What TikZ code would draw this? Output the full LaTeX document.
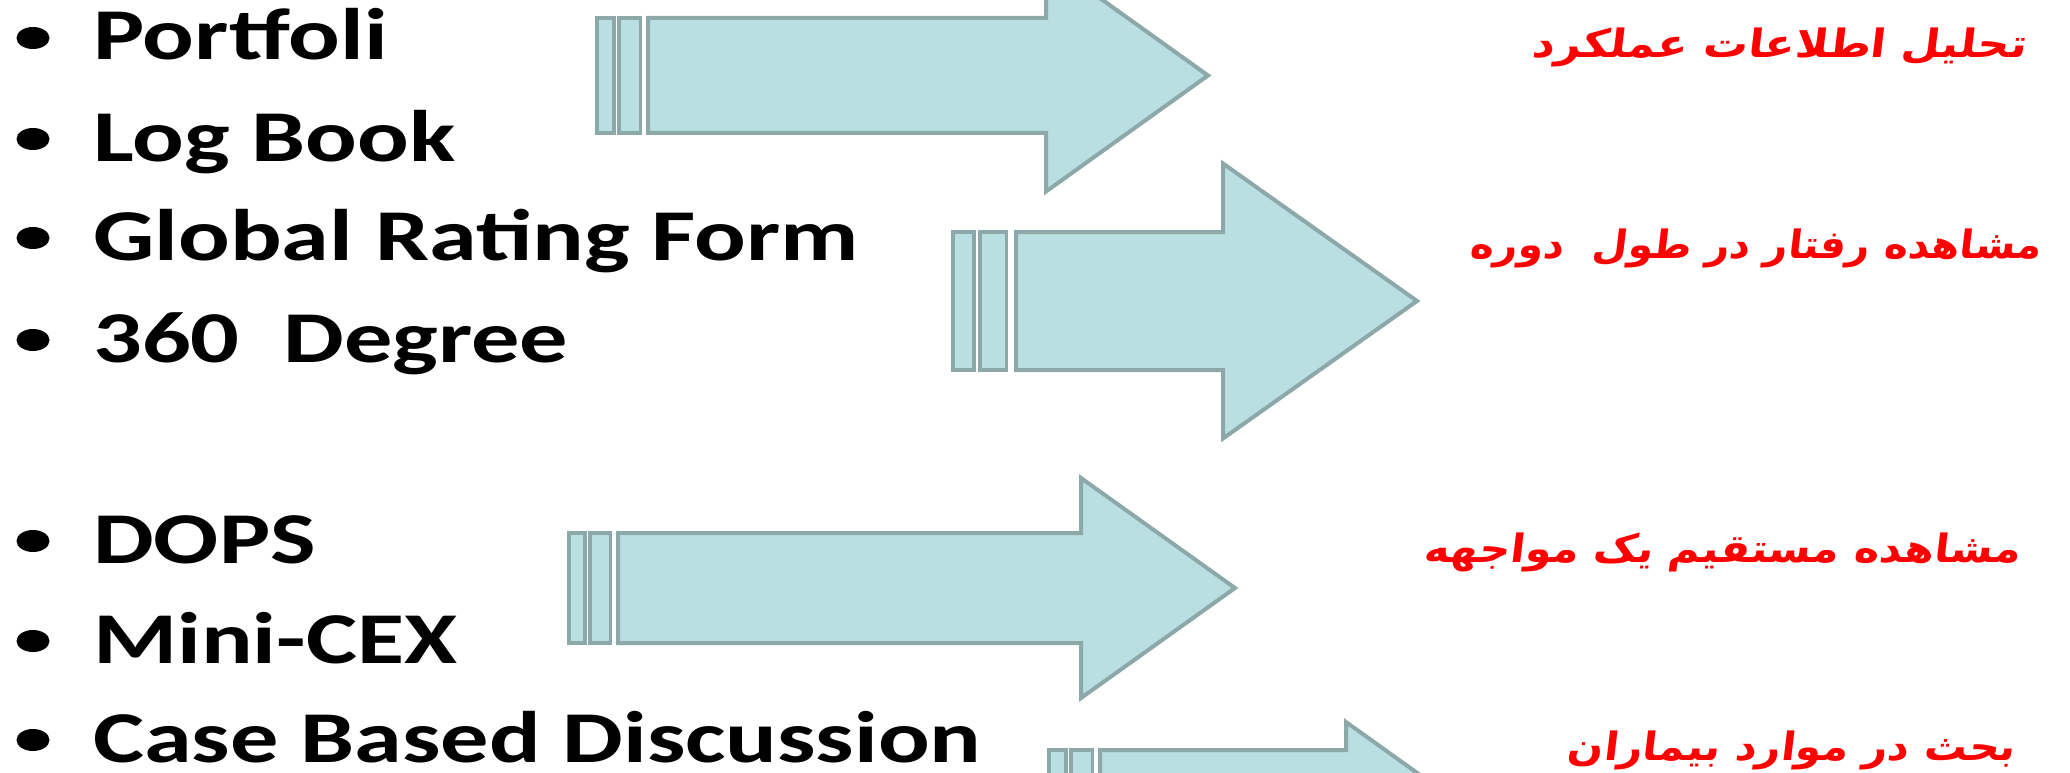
\documentclass[tikz,border=0pt]{standalone}
\usepackage{fontspec}
\usepackage{graphicx}
\setmainfont{Carlito}
\newfontfamily\arabicfont[Script=Arabic]{DejaVu Sans}
\TeXXeTstate=1
\definecolor{arrfill}{HTML}{B9DFE2}
\definecolor{arredge}{HTML}{8DA8A9}
\tikzset{
  en/.style={anchor=base west, inner sep=0pt, xscale=1.32,
    font=\fontsize{73}{80}\selectfont\bfseries},
  fa/.style={anchor=base east, inner sep=0pt, text=red, xslant=0.12,
    font=\arabicfont\bfseries\fontsize{39}{44}\selectfont},
  bul/.style={circle, fill=black, minimum size=22pt, inner sep=0pt, xscale=1.5},
  stripe/.style={fill=arrfill, draw=arredge, line width=3.5pt},
  arrowbody/.style={fill=arrfill, draw=arredge, line width=4pt, line join=miter},
}
\newcommand\fatarrow[7]{%
  \pgfmathsetmacro\aw{#2-#1}%
  \pgfmathsetmacro\sa{#1+0.33*\aw}%
  \pgfmathsetmacro\sb{#1+0.43*\aw}%
  \pgfmathsetmacro\sc{#1+0.85*\aw}%
  \pgfmathsetmacro\cy{(#3+#4)/2}%
  \pgfmathsetmacro\hta{\cy-#6}%
  \pgfmathsetmacro\htb{\cy+#6}%
  \draw[stripe] (#1,#3) rectangle (\sa,#4);
  \draw[stripe] (\sb,#3) rectangle (\sc,#4);
  \draw[arrowbody] (#2,#3) -- (#5,#3) -- (#5,\hta) -- (#7,\cy) -- (#5,\htb) -- (#5,#4) -- (#2,#4) -- cycle;
}
\begin{document}
\begin{tikzpicture}[x=1pt, y=-1pt]
\clip (0,0) rectangle (2070,773);
\fill[white] (0,0) rectangle (2070,773);
% arrows
\fatarrow{597}{648}{18}{133}{1046}{116}{1208}
\fatarrow{953}{1016}{232}{370}{1223}{137.5}{1417}
\fatarrow{569}{618}{533}{643}{1081}{110}{1235}
\fatarrow{1049}{1100}{750}{850}{1346}{78}{1455}
% bullets
\node[bul] (b1) at (33,38) {};
\node[bul] (b2) at (33,139) {};
\node[bul] (b3) at (33,238) {};
\node[bul] (b4) at (33,340) {};
\node[bul] (b5) at (33,541) {};
\node[bul] (b6) at (33,641) {};
\node[bul] (b7) at (33,740) {};
% English items
\node[en] (e1) at (93,60) {Portfoli};
\node[en] (e2) at (93,161) {Log Book};
\node[en] (e3) at (93,260) {Global Rating Form};
\node[en] (e4) at (93,362) {360\ \ Degree};
\node[en] (e5) at (93,563) {DOPS};
\node[en] (e6) at (93,663) {Mini-CEX};
\node[en] (e7) at (93,762) {Case Based Discussion};
% Persian labels
\node[fa] (f1) at (2026,58) {\resizebox{494pt}{\height}{\beginR تحلیل اطلاعات عملکرد\endR}};
\node[fa] (f2) at (2041,258) {\resizebox{571pt}{\height}{\beginR مشاهده رفتار در طول\ \ دوره\endR}};
\node[fa] (f3) at (2020,562) {\resizebox{596pt}{\height}{\beginR مشاهده مستقیم یک مواجهه\endR}};
\node[fa] (f4) at (2015,760) {\resizebox{448pt}{\height}{\beginR بحث در موارد بیماران\endR}};
\end{tikzpicture}
\end{document}
